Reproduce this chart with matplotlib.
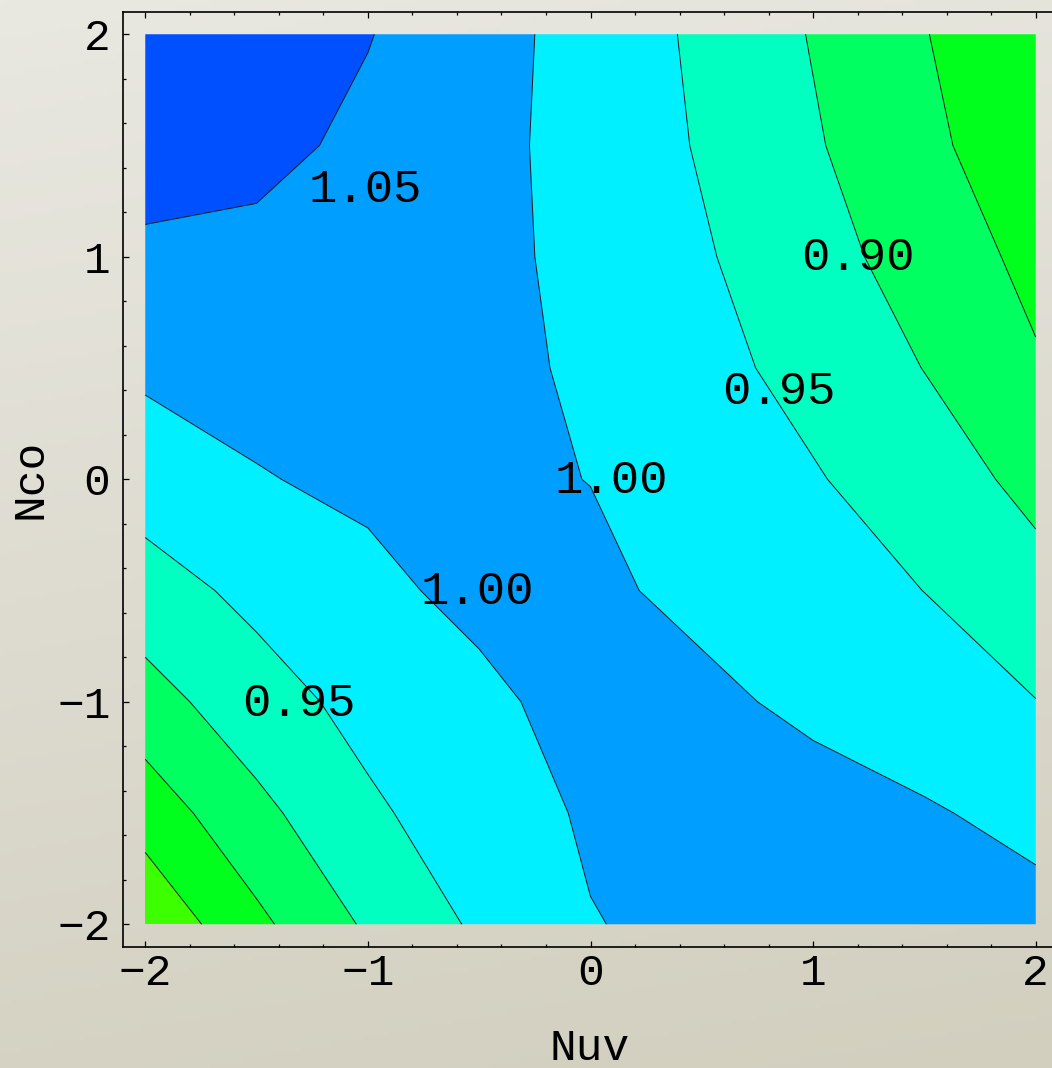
import numpy as np
import matplotlib
matplotlib.use("Agg")
import matplotlib.pyplot as plt
from matplotlib.ticker import MultipleLocator

# ---------------- data ----------------
nuv = [-2.0, -1.5, -1.0, -0.5, 0.0, 0.5, 1.0, 1.5, 2.0]
nco = [2.0, 1.5, 1.0, 0.5, 0.0, -0.5, -1.0, -1.5, -2.0]

z_nco_p20 = [1.090, 1.075, 1.052, 1.018, 0.982, 0.941, 0.897, 0.852, 0.807]
z_nco_p15 = [1.072, 1.063, 1.040, 1.014, 0.983, 0.946, 0.905, 0.861, 0.818]
z_nco_p10 = [1.041, 1.038, 1.025, 1.012, 0.988, 0.955, 0.918, 0.879, 0.837]
z_nco_p05 = [1.009, 1.012, 1.013, 1.007, 0.996, 0.965, 0.934, 0.899, 0.855]
z_nco_00 = [0.972, 0.998, 1.007, 1.006, 0.9995, 0.976, 0.954, 0.923, 0.887]
z_nco_m05 = [0.930, 0.962, 0.991, 1.010, 1.007, 0.991, 0.969, 0.9496, 0.916]
z_nco_m10 = [0.880, 0.930, 0.965, 0.991, 1.015, 1.008, 0.992, 0.971, 0.951]
z_nco_m15 = [0.822, 0.887, 0.942, 0.976, 1.006, 1.018, 1.015, 1.005, 0.986]
z_nco_m20 = [0.760, 0.839, 0.907, 0.958, 0.998, 1.012, 1.020, 1.018, 1.016]

fill_levels = [0.70, 0.80, 0.85, 0.90, 0.95, 1.00, 1.05, 1.20]
line_levels = [0.80, 0.85, 0.90, 0.95, 1.00, 1.05]
fill_colors = ["#3cff00", "#00ff1c", "#00ff60", "#00ffc0",
               "#00f0ff", "#009eff", "#0050ff"]

label_texts = ["1.05", "0.90", "0.95", "1.00", "1.00", "0.95"]
label_nuv = [-1.01, 1.20, 0.845, 0.094, -0.508, -1.308]
label_nco = [1.30, 0.993, 0.391, -0.009, -0.508, -1.011]

# ---------------- figure ----------------
W, H = 1052, 1068
fig = plt.figure(figsize=(W / 100, H / 100), dpi=100)

# background gradient
bg = fig.add_axes([0, 0, 1, 1], zorder=-10)
ny, nx = 200, 200
t = np.linspace(0, 1, ny)[:, None]
s = np.linspace(0, 1, nx)[None, :]
top_c = np.array([233, 232, 225]) / 255
bot_c = np.array([210, 207, 191]) / 255
mix = np.clip(0.85 * t + 0.15 * s, 0, 1)[..., None]
grad = top_c * (1 - mix) + bot_c * mix
bg.imshow(grad, extent=[0, 1, 0, 1], aspect="auto", origin="upper")
bg.set_xlim(0, 1)
bg.set_ylim(0, 1)
bg.axis("off")

left_px, right_px = 123, 1058
top_px, bottom_px = 12, 946.5
ax = fig.add_axes([left_px / W, (H - bottom_px) / H,
                   (right_px - left_px) / W, (bottom_px - top_px) / H])
ax.set_facecolor("none")

Z = np.array([z_nco_p20, z_nco_p15, z_nco_p10, z_nco_p05, z_nco_00,
              z_nco_m05, z_nco_m10, z_nco_m15, z_nco_m20])
X, Y = np.meshgrid(nuv, nco)

ax.contourf(X, Y, Z, levels=fill_levels, colors=fill_colors, antialiased=True)
ax.contour(X, Y, Z, levels=line_levels, colors="#1a1a1a", linewidths=0.7)

for txt, lx, ly in zip(label_texts, label_nuv, label_nco):
    ax.text(lx, ly, txt, ha="center", va="center", fontsize=34,
            family="Liberation Mono", color="black")

ax.set_xlim(-2.1, 2.1)
ax.set_ylim(-2.1, 2.1)
ax.xaxis.set_major_locator(MultipleLocator(1))
ax.yaxis.set_major_locator(MultipleLocator(1))
ax.xaxis.set_minor_locator(MultipleLocator(0.2))
ax.yaxis.set_minor_locator(MultipleLocator(0.2))
ax.tick_params(which="both", direction="in", top=True, right=True,
               color="black", width=0.9)
ax.tick_params(which="major", length=4.5)
ax.tick_params(which="minor", length=2.5)
ax.tick_params(axis="x", pad=5)
ax.tick_params(axis="y", pad=9)
for lab in ax.get_xticklabels() + ax.get_yticklabels():
    lab.set_fontfamily("Liberation Mono")
    lab.set_fontsize(32)
for sp in ax.spines.values():
    sp.set_linewidth(1.2)
    sp.set_color("black")

fig.text(590 / W, 1 - 1049 / H, "Nuv", ha="center", va="center",
         fontsize=32, family="Liberation Mono")
fig.text(30 / W, 1 - 479 / H, "Nco", ha="center", va="center",
         rotation=90, fontsize=32, family="Liberation Mono")

fig.savefig("out.png", dpi=100)
